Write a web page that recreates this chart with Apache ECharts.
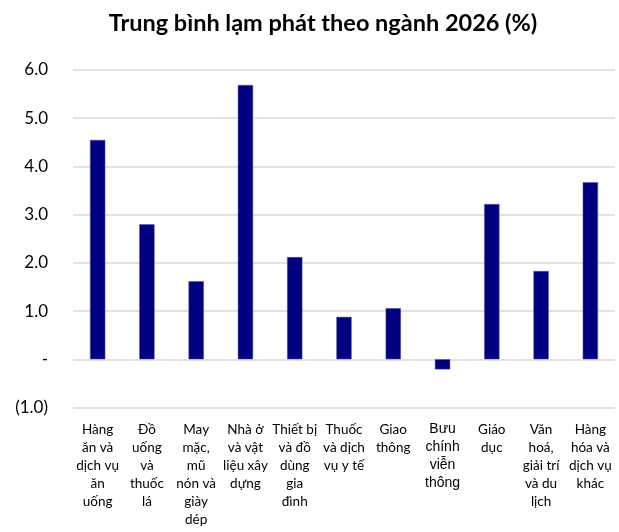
<!DOCTYPE html>
<html><head><meta charset="utf-8">
<script src="https://cdn.jsdelivr.net/npm/echarts@6/dist/echarts.min.js"></script>
<style>html,body{margin:0;padding:0;background:#fff}#c{width:619px;height:532px}</style>
</head><body><div id="c"></div>
<script>
const categories = [
  "Hàng\năn và\ndịch vụ\năn\nuống",
  "Đồ\nuống\nvà\nthuốc\nlá",
  "May\nmặc,\nmũ\nnón và\ngiày\ndép",
  "Nhà ở\nvà vật\nliệu xây\ndựng",
  "Thiết bị\nvà đồ\ndùng\ngia\nđình",
  "Thuốc\nvà dịch\nvụ y tế",
  "Giao\nthông",
  "Bưu\nchính\nviễn\nthông",
  "Giáo\ndục",
  "Văn\nhoá,\ngiải trí\nvà du\nlịch",
  "Hàng\nhóa và\ndịch vụ\nkhác"
];
const values = [4.55, 2.80, 1.62, 5.69, 2.12, 0.88, 1.06, -0.21, 3.22, 1.83, 3.67];
const title = "Trung bình lạm phát theo ngành 2026 (%)";

const chart = echarts.init(document.getElementById('c'));
chart.setOption({
  animation: false,
  backgroundColor: '#fff',
  textStyle: { fontFamily: 'Lato' },
  title: {
    text: title, left: 318, textAlign: 'center', top: 6,
    textStyle: { fontFamily: 'Lato', fontSize: 23.5, fontWeight: 'bold', color: '#000' }
  },
  grid: { left: 73, right: 4, top: 70, bottom: 124.5 },
  xAxis: {
    type: 'category', data: categories,
    axisLine: { show: false }, axisTick: { show: false },
    axisLabel: {
      interval: 0, color: '#000', fontSize: 13.5, lineHeight: 18, margin: 13, fontFamily: 'Lato',
      formatter: (v, i) => i === 7 ? '{a|' + v + '}' : v,
      rich: { a: { fontFamily: 'Liberation Sans', fontSize: 14, lineHeight: 18, color: '#000' } }
    }
  },
  yAxis: {
    type: 'value', min: -1, max: 6, interval: 1,
    axisLine: { show: false }, axisTick: { show: false },
    splitLine: { lineStyle: { color: '#d9d9d9', width: 1.5 } },
    axisLabel: {
      color: '#000', fontSize: 17, margin: 25, fontFamily: 'Lato',
      formatter: v => v === 0 ? '-' : (v < 0 ? '(' + Math.abs(v).toFixed(1) + ')' : v.toFixed(1))
    }
  },
  series: [{
    type: 'bar', data: values, barWidth: '31%',
    itemStyle: { color: '#000080', borderColor: '#5555aa', borderWidth: 0.5 }
  }]
});
</script></body></html>
